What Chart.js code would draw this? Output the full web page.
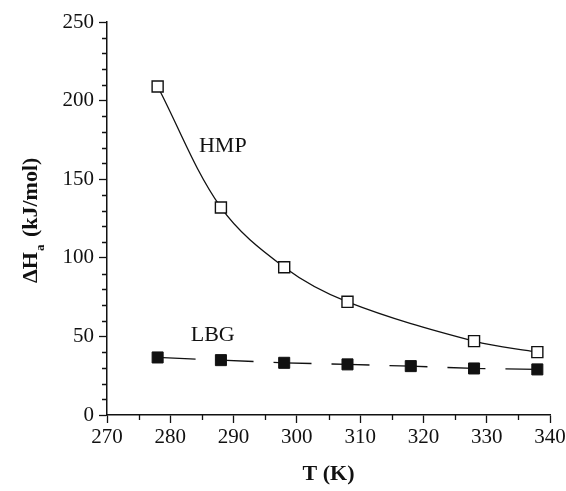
<!DOCTYPE html>
<html>
<head>
<meta charset="utf-8">
<script src="https://cdn.jsdelivr.net/npm/chart.js@4/dist/chart.umd.min.js"></script>
<style>
  html, body { margin: 0; padding: 0; background: #fff; }
  #wrap { width: 566px; height: 491px; position: relative; }
</style>
</head>
<body>
<div id="wrap"><canvas id="chart"></canvas></div>
<script>
// temperatures (K)
const hmpT = [278, 288, 298, 308, 328, 338];
const hmpH = [209, 132, 94, 72, 47, 40];
const lbgT = [278, 288, 298, 308, 318, 328, 338];
const lbgH = [36.6, 34.9, 33.2, 32.2, 31.1, 29.6, 29.0];

const xTicks = [270, 280, 290, 300, 310, 320, 330, 340];
const yTicks = [0, 50, 100, 150, 200, 250];
const xMinor = [275, 285, 295, 305, 315, 325, 335];
const yMinor = [10, 20, 30, 40, 60, 70, 80, 90, 110, 120, 130, 140, 160, 170, 180, 190, 210, 220, 230, 240];

const labels = [
  { text: "HMP", x: 288.3, y: 171 },
  { text: "LBG", x: 286.7, y: 51 }
];

const serif = "'Liberation Serif', 'DejaVu Serif', serif";

const extras = {
  id: "extras",
  afterDraw(chart) {
    const ctx = chart.ctx;
    const xs = chart.scales.x, ys = chart.scales.y;
    const area = chart.chartArea;
    ctx.save();
    ctx.strokeStyle = "#111";
    ctx.lineWidth = 1.3;
    // minor ticks
    ctx.beginPath();
    xMinor.forEach(v => {
      const px = Math.round(xs.getPixelForValue(v)) + 0.5;
      ctx.moveTo(px, area.bottom);
      ctx.lineTo(px, area.bottom + 5);
    });
    yMinor.forEach(v => {
      const py = Math.round(ys.getPixelForValue(v)) + 0.5;
      ctx.moveTo(area.left, py);
      ctx.lineTo(area.left - 5, py);
    });
    ctx.stroke();

    // series labels
    ctx.fillStyle = "#111";
    ctx.font = "22px " + serif;
    ctx.textAlign = "center";
    ctx.textBaseline = "middle";
    labels.forEach(l => {
      ctx.fillText(l.text, xs.getPixelForValue(l.x), ys.getPixelForValue(l.y));
    });

    // y axis title with subscript
    ctx.translate(37, 283);
    ctx.rotate(-Math.PI / 2);
    ctx.textAlign = "left";
    ctx.textBaseline = "alphabetic";
    ctx.font = "bold 22px " + serif;
    ctx.fillText("ΔH", 0, 0);
    let w = ctx.measureText("ΔH").width;
    ctx.font = "bold 13px " + serif;
    ctx.fillText("a", w + 1, 7);
    w += ctx.measureText("a").width + 3;
    ctx.font = "bold 22px " + serif;
    ctx.fillText(" (kJ/mol)", w, 0);
    ctx.restore();
  }
};

new Chart(document.getElementById("chart"), {
  type: "scatter",
  data: {
    datasets: [
      {
        label: "HMP",
        data: hmpT.map((t, i) => ({ x: t, y: hmpH[i] })),
        showLine: true,
        tension: 0.35,
        borderColor: "#111",
        borderWidth: 1.3,
        pointStyle: "rect",
        pointRadius: 7.8,
        pointBorderWidth: 1.4,
        pointBackgroundColor: "#fff",
        pointBorderColor: "#111"
      },
      {
        label: "LBG",
        data: lbgT.map((t, i) => ({ x: t, y: lbgH[i] })),
        showLine: true,
        tension: 0,
        borderColor: "#111",
        borderWidth: 1.3,
        borderDash: [38, 20],
        pointStyle: "rect",
        pointRadius: 7.8,
        pointBorderWidth: 1,
        pointBackgroundColor: "#111",
        pointBorderColor: "#111"
      }
    ]
  },
  options: {
    responsive: true,
    maintainAspectRatio: false,
    animation: false,
    layout: { padding: { top: 22, right: 16, left: 0, bottom: 0 } },
    plugins: {
      legend: { display: false },
      tooltip: { enabled: false }
    },
    scales: {
      x: {
        type: "linear",
        min: 270,
        max: 340,
        afterBuildTicks: s => { s.ticks = xTicks.map(v => ({ value: v })); },
        afterFit: s => { s.height = 76; s.paddingLeft = 0; s.paddingRight = 0; },
        border: { display: true, color: "#111", width: 1.5 },
        grid: { display: true, drawOnChartArea: false, drawTicks: true, tickLength: 8, tickColor: "#111", tickWidth: 1.3 },
        ticks: { color: "#111", font: { family: serif, size: 21 }, padding: 2, maxRotation: 0 },
        title: { display: true, text: "T (K)", color: "#111", font: { family: serif, size: 22, weight: "bold" }, padding: { top: 0, bottom: 3 } }
      },
      y: {
        min: 0,
        max: 250,
        afterBuildTicks: s => { s.ticks = yTicks.map(v => ({ value: v })); },
        afterFit: s => { s.width = 107; s.paddingTop = 0; s.paddingBottom = 0; },
        border: { display: true, color: "#111", width: 1.5 },
        grid: { display: true, drawOnChartArea: false, drawTicks: true, tickLength: 8, tickColor: "#111", tickWidth: 1.3 },
        ticks: { color: "#111", font: { family: serif, size: 21 }, padding: 5 }
      }
    }
  },
  plugins: [extras]
});
</script>
</body>
</html>
